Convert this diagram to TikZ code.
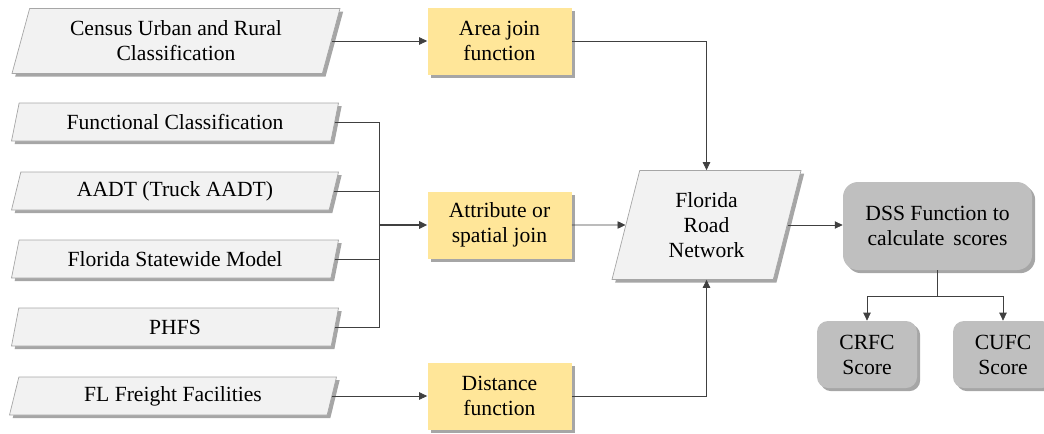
\documentclass[tikz,border=0pt]{standalone}
\usepackage{fontspec}
\setmainfont{LiberationSerif}[Extension=.ttf, UprightFont=*-Regular, BoldFont=*-Bold]
\usepackage{tikz}
\usetikzlibrary{shapes.geometric, arrows.meta, shadows}
\definecolor{datafill}{HTML}{F2F2F2}
\definecolor{dataline}{HTML}{A6A6A6}
\definecolor{funcfill}{HTML}{FFE699}
\definecolor{dssfill}{HTML}{BFBFBF}
\tikzset{
    shade/.style = {drop shadow={shadow xshift=1.8pt, shadow yshift=-1.8pt, opacity=0.35, fill=black}},
    data/.style = {trapezium, trapezium left angle=68, trapezium right angle=112, trapezium stretches body=true,
                   draw=dataline, fill=datafill, shade, align=center, inner sep=1pt},
    func/.style = {rectangle, fill=funcfill, shade, align=center, minimum width=2.88cm, minimum height=1.34cm},
    dssbox/.style = {rectangle, rounded corners=0.3cm, fill=dssfill, shade, align=center},
    link/.style = {draw=black!75, -{Triangle[length=4.5pt,width=4.2pt]}}
}

\begin{document}
\begin{tikzpicture}[font=\rmfamily\fontsize{12.3}{14.2}\selectfont]
    \useasboundingbox (0,0) rectangle (20.88,-8.66);
    % inputs
    \node[data, minimum width=6.56cm, minimum height=1.30cm] (census) at (3.52,-0.82) {Census Urban and Rural\\Classification};
    \node[data, minimum width=6.54cm, minimum height=0.76cm] (fc)   at (3.5,-2.44) {Functional Classification};
    \node[data, minimum width=6.54cm, minimum height=0.76cm] (aadt) at (3.5,-3.82) {AADT (Truck AADT)};
    \node[data, minimum width=6.54cm, minimum height=0.76cm] (fsm)  at (3.5,-5.18) {Florida Statewide Model};
    \node[data, minimum width=6.54cm, minimum height=0.76cm] (phfs) at (3.5,-6.54) {PHFS};
    \node[data, minimum width=6.54cm, minimum height=0.76cm] (flff) at (3.46,-7.92) {FL Freight Facilities};
    % functions
    \node[func] (area) at (9.99,-0.82) {Area join\\function};
    \node[func] (attr) at (9.99,-4.5) {Attribute or\\spatial join};
    \node[func] (dist) at (9.99,-7.92) {Distance\\function};
    \coordinate (merge) at (7.58,-4.5);
    % network and scores
    \node[data, minimum width=3.78cm, minimum height=2.18cm] (frn) at (14.13,-4.5) {Florida\\Road\\Network};
    \node[dssbox, minimum width=3.78cm, minimum height=1.76cm] (dss) at (18.75,-4.52) {DSS Function to\\calculate\, scores};
    \coordinate (split) at (18.75,-5.92);
    \node[dssbox, rounded corners=0.22cm, minimum width=2cm, minimum height=1.34cm] (crfc) at (17.34,-7.09) {CRFC\\Score};
    \node[dssbox, rounded corners=0.22cm, minimum width=2cm, minimum height=1.34cm] (cufc) at (20.06,-7.09) {CUFC\\Score};
    % connectors
    \draw[link] (census.east) -- (census.east -| area.west);
    \draw[draw=black!75] (fc.east) -| (merge);
    \draw[draw=black!75] (aadt.east) -| (merge);
    \draw[draw=black!75] (fsm.east) -| (merge);
    \draw[draw=black!75] (phfs.east) -| (merge);
    \draw[link, thick] (merge) -- (attr.west);
    \draw[link] (flff.east) -- (flff.east -| dist.west);
    \draw[link] (area.east) -| (frn.north);
    \draw[link] (attr.east) -- (frn.west);
    \draw[link] (dist.east) -| (frn.south);
    \draw[link] (frn.east) -- (frn.east -| dss.west);
    \draw[draw=black!75] (dss.south) -- (split);
    \draw[link] (split) -| (crfc.north);
    \draw[link] (split) -| (cufc.north);
\end{tikzpicture}
\end{document}
